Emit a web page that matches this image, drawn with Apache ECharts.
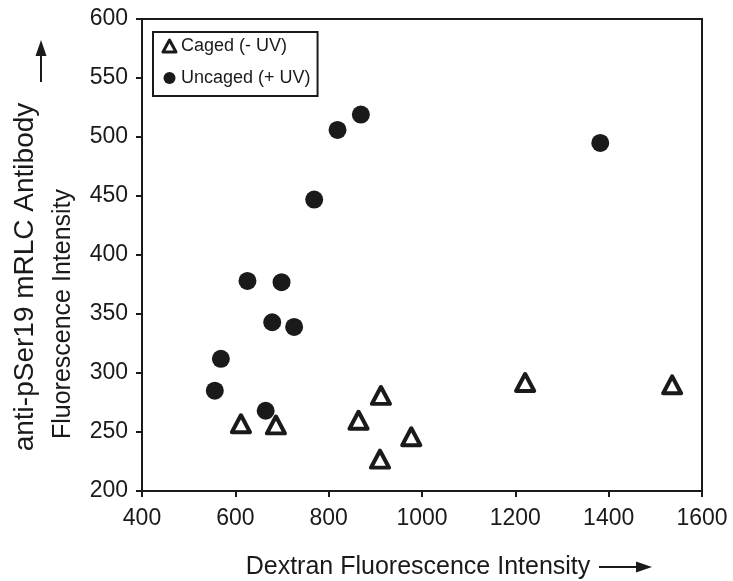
<!DOCTYPE html>
<html>
<head>
<meta charset="utf-8">
<script src="https://cdn.jsdelivr.net/npm/echarts@6/dist/echarts.min.js"></script>
<style>
html, body { margin: 0; padding: 0; background: #fff; }
#main { width: 733px; height: 581px; }
</style>
</head>
<body>
<div id="main"></div>
<script>
// values
var cagedX = [612, 687, 864, 912, 910, 977, 1221, 1536];
var cagedY = [257, 256, 260, 281, 227, 246, 292, 290];
var uncagedX = [556, 569, 626, 665, 679, 699, 726, 769, 819, 869, 1382];
var uncagedY = [285, 312, 378, 268, 343, 377, 339, 447, 506, 519, 495];
var seriesNames = ['Caged (- UV)', 'Uncaged (+ UV)'];
var xTicks = [400, 1600, 200];   // min, max, interval
var yTicks = [200, 600, 50];

var ink = '#1a1a1a';
var font = 'Liberation Sans, Arial, sans-serif';

function pairs(xs, ys){
	var out = [];
	for (var i = 0; i < xs.length; i++) {
		out.push([xs[i], ys[i]]);
	}
	return out;
}

var myChart = echarts.init(document.getElementById('main'));

var option = {
	backgroundColor: '#fff',
	animation: false,
	grid: {
		left: 142,
		right: 31,
		top: 19,
		bottom: 90,
		outerBoundsMode: 'none',
		containLabel: false,
		show: true,
		borderColor: ink,
		borderWidth: 2
	},
	legend: {
		orient: 'vertical',
		left: 153,
		top: 32,
		padding: [5, 7, 9, 8.5],
		itemGap: 14,
		itemWidth: 13,
		itemHeight: 12,
		borderColor: ink,
		borderWidth: 2,
		textStyle: { fontFamily: font, fontSize: 18, lineHeight: 18, color: ink },
		data: [
			{ name: seriesNames[0], icon: 'triangle', itemStyle: { color: '#fff', borderColor: ink, borderWidth: 3 } },
			{ name: seriesNames[1], icon: 'circle', itemStyle: { color: ink, borderWidth: 0 } }
		]
	},
	xAxis: {
		type: 'value',
		min: xTicks[0],
		max: xTicks[1],
		interval: xTicks[2],
		name: 'Dextran Fluorescence Intensity',
		nameLocation: 'middle',
		nameGap: 64,
		nameTextStyle: { fontFamily: font, fontSize: 25, color: ink, padding: [0, 8, 0, 0] },
		splitLine: { show: false },
		axisLine: { lineStyle: { color: ink, width: 2 } },
		axisTick: { inside: false, length: 6, lineStyle: { color: ink, width: 2 } },
		axisLabel: {
			margin: 16, fontFamily: font, fontSize: 23, color: ink,
			formatter: function (v) { return String(v); }
		}
	},
	yAxis: {
		type: 'value',
		min: yTicks[0],
		max: yTicks[1],
		interval: yTicks[2],
		splitLine: { show: false },
		axisLine: { lineStyle: { color: ink, width: 2 } },
		axisTick: { inside: false, length: 6, lineStyle: { color: ink, width: 2 } },
		axisLabel: {
			margin: 14, fontFamily: font, fontSize: 23, color: ink,
			formatter: function (v) { return String(v); }
		}
	},
	graphic: [
		// y axis title, two rotated lines
		{
			type: 'text', x: 25, y: 277, rotation: Math.PI / 2,
			style: { text: 'anti-pSer19 mRLC Antibody', font: '28px ' + font, fill: ink, align: 'center', verticalAlign: 'middle' }
		},
		{
			type: 'text', x: 63, y: 314, rotation: Math.PI / 2,
			style: { text: 'Fluorescence Intensity', font: '25px ' + font, fill: ink, align: 'center', verticalAlign: 'middle' }
		},
		// arrows
		{ type: 'line', shape: { x1: 41, y1: 82, x2: 41, y2: 54 }, style: { stroke: ink, lineWidth: 2 } },
		{ type: 'polygon', shape: { points: [[35.5, 56], [41, 40], [46.5, 56]] }, style: { fill: ink } },
		{ type: 'line', shape: { x1: 599, y1: 567, x2: 638, y2: 567 }, style: { stroke: ink, lineWidth: 2 } },
		{ type: 'polygon', shape: { points: [[636, 561.5], [652, 567], [636, 572.5]] }, style: { fill: ink } }
	],
	series: [
		{
			name: seriesNames[0],
			type: 'scatter',
			symbol: 'triangle',
			symbolSize: [18, 17],
			itemStyle: { color: '#fff', borderColor: ink, borderWidth: 4, borderJoin: 'round', opacity: 1 },
			data: pairs(cagedX, cagedY),
			z: 3
		},
		{
			name: seriesNames[1],
			type: 'scatter',
			symbol: 'circle',
			symbolSize: 18,
			itemStyle: { color: ink, opacity: 1 },
			data: pairs(uncagedX, uncagedY),
			z: 2
		}
	]
};

myChart.setOption(option);
</script>
</body>
</html>
